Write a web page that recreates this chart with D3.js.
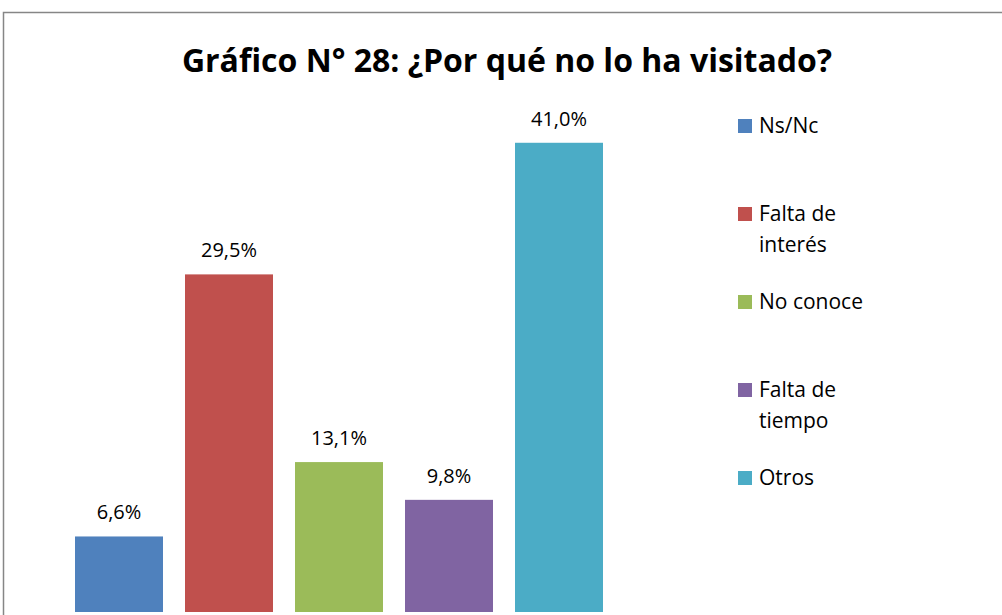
<!DOCTYPE html>
<html>
<head>
<meta charset="utf-8">
<script src="https://cdn.jsdelivr.net/npm/d3@7"></script>
<style>
	body { margin: 0; background: #fff; }
	svg text { font-family: "Open Sans", "Noto Sans", sans-serif; fill: #000; }
</style>
</head>
<body>
<div id="chart-wrap"></div>
<script>
//Data
const categories = ["Ns/Nc", "Falta de interés", "No conoce", "Falta de tiempo", "Otros"];
const values = [6.6, 29.5, 13.1, 9.8, 41.0];
const colors = ["#4F81BD", "#C0504D", "#9BBB59", "#8064A2", "#4BACC6"];
const legendLines = [["Ns/Nc"], ["Falta de", "interés"], ["No conoce"], ["Falta de", "tiempo"], ["Otros"]];

//Layout
const width = 1002, height = 615;

let svg = d3.select("#chart-wrap")
	.append("svg")
	.attr("width", width)
	.attr("height", height);

//outer frame (runs off the right and bottom edge)
svg.append("rect")
	.attr("x", 3.5).attr("y", 12.5)
	.attr("width", 1010).attr("height", 620)
	.attr("fill", "none")
	.attr("stroke", "#868686")
	.attr("stroke-width", 1.5);

svg.append("text")
	.attr("x", 507).attr("y", 72)
	.attr("text-anchor", "middle")
	.style("font-weight", "bold")
	.style("font-size", "32px")
	.text("Gráfico N° 28: ¿Por qué no lo ha visitado?");

let x = d3.scaleBand()
	.domain(categories)
	.range([53, 625])
	.paddingInner(0.2)
	.paddingOuter(0.2);

let y = d3.scaleLinear()
	.domain([0, 45])
	.range([612, 97]);

svg.selectAll("rect.bar")
	.data(values)
	.enter()
	.append("rect")
	.attr("class", "bar")
	.attr("x", (d, i) => x(categories[i]))
	.attr("y", d => y(d))
	.attr("width", x.bandwidth())
	.attr("height", d => y(0) - y(d))
	.style("fill", (d, i) => colors[i]);

svg.selectAll("text.lbl")
	.data(values)
	.enter()
	.append("text")
	.attr("class", "lbl")
	.attr("x", (d, i) => x(categories[i]) + x.bandwidth() / 2)
	.attr("y", d => y(d) - 17)
	.attr("text-anchor", "middle")
	.style("font-size", "20px")
	.text(d => d.toFixed(1).replace(".", ",") + "%");

//legend
let legY = d3.scalePoint()
	.domain(categories)
	.range([126, 478]);

let leg = svg.selectAll("g.leg")
	.data(categories)
	.enter()
	.append("g")
	.attr("class", "leg")
	.attr("transform", d => "translate(738," + legY(d) + ")");

leg.append("rect")
	.attr("x", 0).attr("y", -7)
	.attr("width", 14).attr("height", 14)
	.style("fill", (d, i) => colors[i]);

leg.append("text")
	.attr("x", 21)
	.attr("y", 7)
	.style("font-size", "21px")
	.selectAll("tspan")
	.data((d, i) => legendLines[i])
	.enter()
	.append("tspan")
	.attr("x", 21)
	.attr("dy", (d, j) => j === 0 ? 0 : 31)
	.text(d => d);
</script>
</body>
</html>
